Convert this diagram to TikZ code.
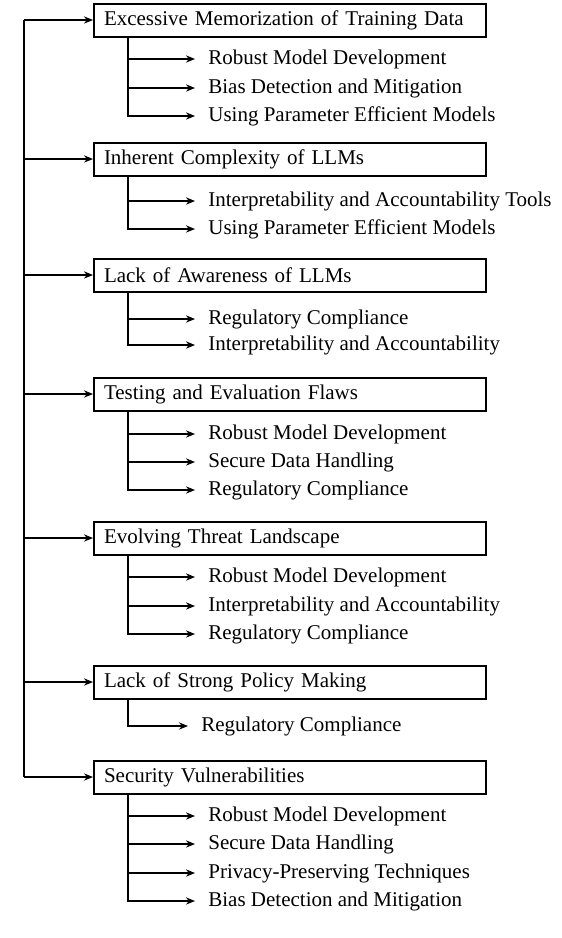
\documentclass[tikz,border=0pt]{standalone}
\usepackage{fontspec}
\setmainfont{Liberation Serif}
\usepackage{tikz}
\usetikzlibrary{arrows.meta, positioning}

\tikzset{
  causebox/.style={draw, line width=1pt, anchor=west, text width=186pt, inner xsep=5pt,
    minimum height=16.5pt, align=left, font=\fontsize{10.5}{12}\selectfont},
  fixitem/.style={anchor=west, inner xsep=6.5pt, inner ysep=1pt, font=\fontsize{10.5}{12}\selectfont},
  link/.style={-{Stealth[length=4.5pt, width=3.6pt]}, line width=0.55pt}
}

\begin{document}
\begin{tikzpicture}[x=0.5pt, y=-0.5pt]
\useasboundingbox (0,0) rectangle (562,938);

% cause boxes
\node[causebox] (c1) at (93,20) {Excessive Memorization of Training Data};
\node[causebox] (c2) at (93,159) {Inherent Complexity of LLMs};
\node[causebox] (c3) at (93,275) {Lack of Awareness of LLMs};
\node[causebox] (c4) at (93,394) {Testing and Evaluation Flaws};
\node[causebox] (c5) at (93,538) {Evolving Threat Landscape};
\node[causebox] (c6) at (93,682) {Lack of Strong Policy Making};
\node[causebox] (c7) at (93,777) {Security Vulnerabilities};

% remedies
\node[fixitem] (c1-1) at (195,59) {Robust Model Development};
\node[fixitem] (c1-2) at (195,88) {Bias Detection and Mitigation};
\node[fixitem] (c1-3) at (195,116) {Using Parameter Efficient Models};

\node[fixitem] (c2-1) at (195,201) {Interpretability and Accountability Tools};
\node[fixitem] (c2-2) at (195,229) {Using Parameter Efficient Models};

\node[fixitem] (c3-1) at (195,319) {Regulatory Compliance};
\node[fixitem] (c3-2) at (195,345) {Interpretability and Accountability};

\node[fixitem] (c4-1) at (195,434) {Robust Model Development};
\node[fixitem] (c4-2) at (195,462) {Secure Data Handling};
\node[fixitem] (c4-3) at (195,490) {Regulatory Compliance};

\node[fixitem] (c5-1) at (195,577) {Robust Model Development};
\node[fixitem] (c5-2) at (195,606) {Interpretability and Accountability};
\node[fixitem] (c5-3) at (195,634) {Regulatory Compliance};

\node[fixitem] (c6-1) at (188,726) {Regulatory Compliance};

\node[fixitem] (c7-1) at (195,816) {Robust Model Development};
\node[fixitem] (c7-2) at (195,844) {Secure Data Handling};
\node[fixitem] (c7-3) at (195,873) {Privacy-Preserving Techniques};
\node[fixitem] (c7-4) at (195,901) {Bias Detection and Mitigation};

% main trunk
\coordinate (trunk) at (24,20);
\draw[line width=0.55pt] (trunk) -- (trunk |- c7.west);
\foreach \c in {1,...,7}
  \draw[link] (trunk |- c\c.west) -- (c\c.west);

% branches
\foreach \c/\n in {1/3, 2/2, 3/2, 4/3, 5/3, 6/1, 7/4}
  \foreach \s in {1,...,\n}
    \draw[link] ([xshift=17.5pt]c\c.south west) |- (c\c-\s.west);
\end{tikzpicture}
\end{document}
